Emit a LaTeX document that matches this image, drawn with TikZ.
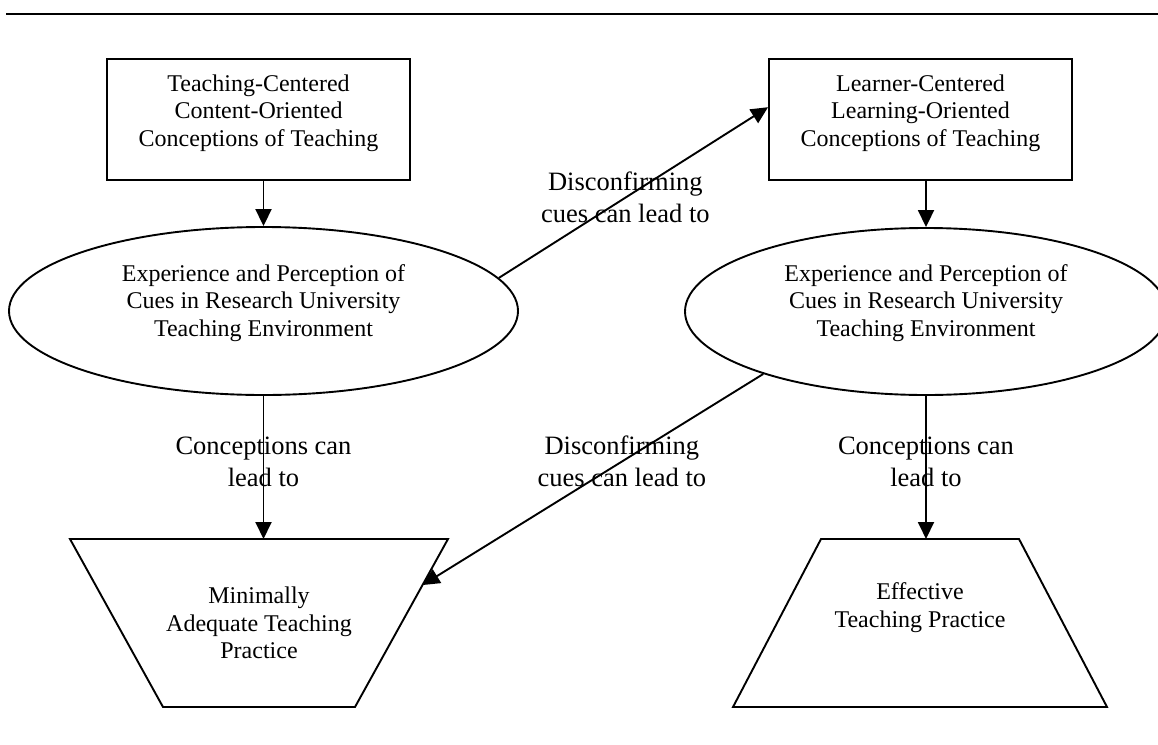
\documentclass[tikz,border=0pt]{standalone}
\usepackage{fontspec}
\setmainfont{Liberation Serif}
\usetikzlibrary{arrows.meta,shapes.geometric,calc}
\begin{document}
\begin{tikzpicture}[x=1pt,y=-1pt,
  shp/.style={draw, line width=1.9pt},
  boxtxt/.style={align=center, font=\fontsize{24}{27.5}\selectfont, inner sep=0pt},
  lbl/.style={align=center, font=\fontsize{26.5}{32}\selectfont, inner sep=0pt},
  arr/.style={-{Triangle[length=17pt,width=16pt]}, line width=1.9pt},
  rectbox/.style={shp, minimum width=303pt, minimum height=121pt, inner sep=0pt},
  ellbox/.style={shp, ellipse, inner sep=0pt}]
\useasboundingbox (0,0) rectangle (1158,744);
\coordinate (ruleL) at (6,14);
\coordinate (ruleR) at (1158,14);
\draw[line width=2pt] (ruleL) -- (ruleR);

\node[rectbox] (lrect) at (258.5,119.5) {};
\node[boxtxt] (lrecttxt) at (258.5,113) {Teaching-Centered\\Content-Oriented\\Conceptions of Teaching};
\node[rectbox] (rrect) at (920.5,119.5) {};
\node[boxtxt] (rrecttxt) at (920.5,113) {Learner-Centered\\Learning-Oriented\\Conceptions of Teaching};

\node[ellbox, minimum width=509pt, minimum height=168pt] (le) at (263.5,311) {};
\node[boxtxt] (letxt) at (263.5,303) {Experience and Perception of\\Cues in Research University\\Teaching Environment};
\node[ellbox, minimum width=482pt, minimum height=167pt] (re) at (926,311.5) {};
\node[boxtxt] (retxt) at (926,303) {Experience and Perception of\\Cues in Research University\\Teaching Environment};

\coordinate (ltl) at (70,539);
\coordinate (ltr) at (448,539);
\coordinate (lbr) at (355,707);
\coordinate (lbl) at (163,707);
\draw[shp] (ltl) -- (ltr) -- (lbr) -- (lbl) -- cycle;
\node[boxtxt] (ltxt) at (259,623) {Minimally\\Adequate Teaching\\Practice};

\coordinate (rtl) at (821,539);
\coordinate (rtr) at (1019,539);
\coordinate (rbr) at (1107,707);
\coordinate (rbl) at (733,707);
\draw[shp] (rtl) -- (rtr) -- (rbr) -- (rbl) -- cycle;
\node[boxtxt] (rtxt) at (920,607.5) {Effective\\Teaching Practice};

\draw[arr] (le.north |- lrect.south) -- (le.north);
\draw[arr] (re.north |- rrect.south) -- (re.north);
\coordinate (ltop) at (le.south |- ltl);
\draw[arr] (le.south) -- node[lbl, pos=0.46] (lc) {Conceptions can\\lead to} (ltop);
\coordinate (rtop) at (re.south |- rtl);
\draw[arr] (re.south) -- node[lbl, pos=0.46] (rc) {Conceptions can\\lead to} (rtop);

\coordinate (a1e) at ($(rrect.north west)!0.4!(rrect.south west)$);
\draw[arr] (le.8.8) -- node[lbl, pos=0.47] (d1) {Disconfirming\\cues can lead to} (a1e);
\coordinate (a2e) at ($(ltr)!0.274!(lbr)$);
\draw[arr] (re.201.4) -- node[lbl, pos=0.415] (d2) {Disconfirming\\cues can lead to} (a2e);
\end{tikzpicture}
\end{document}
